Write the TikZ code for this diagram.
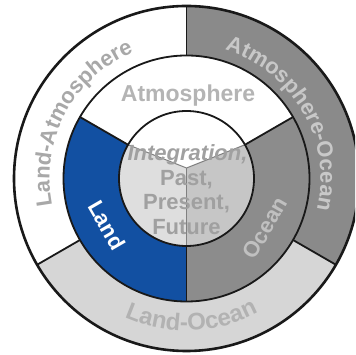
\documentclass[tikz,border=0pt]{standalone}
\usepackage{fontspec}
\setmainfont{Liberation Sans}
\usetikzlibrary{decorations.text}
\definecolor{landblue}{RGB}{18,80,162}
\definecolor{oceangray}{RGB}{140,140,140}
\definecolor{aogray}{RGB}{138,138,138}
\definecolor{logray}{RGB}{214,214,214}
\definecolor{coreleft}{RGB}{222,222,222}
\definecolor{coreright}{RGB}{198,198,198}
\definecolor{linecol}{RGB}{25,25,25}
\definecolor{txtAtm}{RGB}{180,180,180}
\definecolor{txtLA}{RGB}{168,168,168}
\definecolor{txtAO}{RGB}{200,200,200}
\definecolor{txtOc}{RGB}{192,192,192}
\definecolor{txtLO}{RGB}{178,178,178}
\definecolor{txtCore}{RGB}{160,160,160}
\newcommand\ringfont{\fontsize{22}{22}\selectfont\bfseries}
\newcommand\bigringfont{\fontsize{24}{24}\selectfont\bfseries}
\tikzset{
  ring/.style={draw=linecol, line width=1.8pt},
  coreline/.style={draw=gray, line width=1pt},
  lbl/.style={font=\ringfont, inner sep=0pt},
}
\begin{document}
\begin{tikzpicture}[x=1pt,y=1pt, line join=round]
\useasboundingbox (0,0) rectangle (355,355);
\fill[white] (0,0) rectangle (355,355);
\clip (0,0) rectangle (355,355);
\begin{scope}[shift={(186.5,176.5)}]
\coordinate (C) at (0,0);
% outer ring sectors
\fill[white] (C) -- (90:172.5) arc[start angle=90,end angle=210,radius=172.5] -- cycle;
\fill[aogray] (C) -- (-30:172.5) arc[start angle=-30,end angle=90,radius=172.5] -- cycle;
\fill[logray] (C) -- (210:172.5) arc[start angle=210,end angle=330,radius=172.5] -- cycle;
% middle ring sectors
\fill[white] (C) -- (30:123) arc[start angle=30,end angle=150,radius=123] -- cycle;
\fill[landblue] (C) -- (150:123) arc[start angle=150,end angle=270,radius=123] -- cycle;
\fill[oceangray] (C) -- (270:123) arc[start angle=270,end angle=390,radius=123] -- cycle;
% core
\coordinate (J) at (0,10.5);
\coordinate (c150) at (150:67.5);
\coordinate (c30) at (30:67.5);
\coordinate (c270) at (270:67.5);
\fill[white] (J) -- (c150) arc[start angle=150,end angle=30,radius=67.5] -- cycle;
\fill[coreleft] (J) -- (c150) arc[start angle=150,end angle=270,radius=67.5] -- cycle;
\fill[coreright] (J) -- (c270) arc[start angle=270,end angle=390,radius=67.5] -- cycle;
\draw[coreline] (c150) -- (J) -- (c30);
\draw[coreline] (J) -- (c270);
% circles
\draw[ring, line width=2.6pt] (C) circle[radius=172.5];
\draw[ring] (C) circle[radius=123];
\draw[ring] (C) circle[radius=67.5];
% dividers
\draw[ring] (90:123) -- (90:172.5);
\draw[ring] (210:123) -- (210:172.5);
\draw[ring] (330:123) -- (330:172.5);
\draw[ring] (c30) -- (30:123);
\draw[ring] (c150) -- (150:123);
\draw[ring] (c270) -- (270:123);
% curved labels
\path[decorate, decoration={text along path, text align=center,
  text={|\ringfont\color{txtLA}|Land-Atmosphere}}]
  (230:137) arc[start angle=230, end angle=74, radius=137];
\path[decorate, decoration={text along path, text align=center,
  text={|\ringfont\color{txtAO}|Atmosphere-Ocean}}]
  (85:134) arc[start angle=85, end angle=-25, radius=134];
\path[decorate, decoration={text along path, text align=center,
  text={|\bigringfont\color{txtLO}|Land-Ocean}}]
  (222:152) arc[start angle=222, end angle=322, radius=152];
% straight labels
\node[lbl, text=txtAtm, anchor=base, font=\fontsize{23}{23}\selectfont\bfseries] (atm) at (1.5,76.5) {Atmosphere};
\node[lbl, text=white, rotate=-60] (land) at (-79.5,-46.5) {Land};
\node[lbl, text=txtOc, rotate=60] (ocean) at (78.5,-49.5) {Ocean};
\node[lbl, text=txtCore, anchor=base, font=\ringfont\itshape] (i1) at (1,17.5) {Integration,};
\node[lbl, text=txtCore, anchor=base] (i2) at (0,-7) {Past,};
\node[lbl, text=txtCore, anchor=base] (i3) at (0,-31.5) {Present,};
\node[lbl, text=txtCore, anchor=base] (i4) at (0,-56) {Future};
\end{scope}
\end{tikzpicture}
\end{document}
